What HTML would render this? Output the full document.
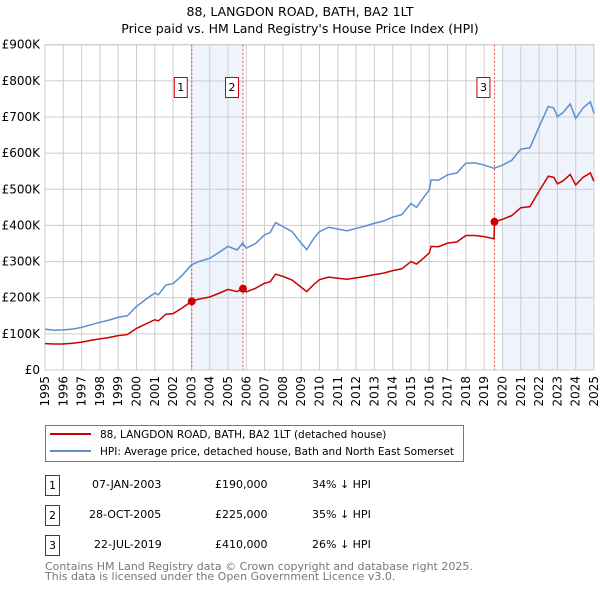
<!DOCTYPE html>
<html><head><meta charset="utf-8"><style>
body{margin:0;background:#fff;font-family:"DejaVu Sans","Liberation Sans",sans-serif;}
svg text{font-family:"DejaVu Sans","Liberation Sans",sans-serif;}
</style></head><body>
<svg id="c" width="600" height="590" xmlns="http://www.w3.org/2000/svg">
<text x="300" y="16" text-anchor="middle" font-size="12.5">88, LANGDON ROAD, BATH, BA2 1LT</text>
<text x="300" y="33" text-anchor="middle" font-size="12.5">Price paid vs. HM Land Registry's House Price Index (HPI)</text>
<g id="plot"></g>
<g>
<rect x="45.5" y="425.5" width="418" height="36" fill="#fff" stroke="#777"/>
<line x1="50" y1="434" x2="91" y2="434" stroke="#cc0000" stroke-width="2"/>
<text x="100" y="438" font-size="10.5">88, LANGDON ROAD, BATH, BA2 1LT (detached house)</text>
<line x1="50" y1="451" x2="91" y2="451" stroke="#5b8fd0" stroke-width="2"/>
<text x="100" y="455" font-size="10.5">HPI: Average price, detached house, Bath and North East Somerset</text>
</g>
<g font-size="11">
<rect x="45.5" y="475.5" width="14" height="20" fill="#fff" stroke="#cc0000"/><text x="52.5" y="489" text-anchor="middle">1</text>
<text x="92" y="488">07-JAN-2003</text><text x="215" y="488">£190,000</text><text x="312" y="488">34% ↓ HPI</text>
<rect x="45.5" y="505.5" width="14" height="20" fill="#fff" stroke="#cc0000"/><text x="52.5" y="519" text-anchor="middle">2</text>
<text x="89" y="518">28-OCT-2005</text><text x="215" y="518">£225,000</text><text x="312" y="518">35% ↓ HPI</text>
<rect x="45.5" y="535.5" width="14" height="20" fill="#fff" stroke="#cc0000"/><text x="52.5" y="549" text-anchor="middle">3</text>
<text x="94" y="548">22-JUL-2019</text><text x="215" y="548">£410,000</text><text x="312" y="548">26% ↓ HPI</text>
</g>
<text x="45" y="570" font-size="11" fill="#777">Contains HM Land Registry data © Crown copyright and database right 2025.</text>
<text x="45" y="580" font-size="11" fill="#777">This data is licensed under the Open Government Licence v3.0.</text>
</svg>
<script>
const hpiYears=[1995,1995.5,1996,1996.5,1997,1997.5,1998,1998.5,1999,1999.5,2000,2000.5,2001,2001.2,2001.6,2002,2002.5,2003,2003.4,2004,2004.5,2005,2005.5,2005.8,2006,2006.5,2007,2007.3,2007.6,2008,2008.5,2009,2009.3,2009.7,2010,2010.5,2011,2011.5,2012,2012.5,2013,2013.5,2014,2014.5,2015,2015.3,2015.7,2016,2016.1,2016.5,2017,2017.5,2018,2018.5,2019,2019.55,2020,2020.5,2021,2021.5,2022,2022.5,2022.8,2023,2023.3,2023.7,2024,2024.4,2024.8,2025];
const hpiValues=[113,110,111,113,118,125,132,138,146,150,176,195,213,208,235,239,262,291,300,309,325,342,332,351,337,350,374,380,408,397,383,351,333,365,383,395,390,385,392,398,406,412,423,430,461,450,478,498,526,525,540,545,572,573,567,558,567,580,611,615,673,729,725,701,712,736,696,725,742,710];
const ppYears=[1995,1995.5,1996,1996.5,1997,1997.5,1998,1998.5,1999,1999.5,2000,2000.5,2001,2001.2,2001.6,2002,2002.5,2003.02,2003.4,2004,2004.5,2005,2005.5,2005.82,2006,2006.5,2007,2007.3,2007.6,2008,2008.5,2009,2009.3,2009.7,2010,2010.5,2011,2011.5,2012,2012.5,2013,2013.5,2014,2014.5,2015,2015.3,2015.7,2016,2016.1,2016.5,2017,2017.5,2018,2018.5,2019,2019.54,2019.56,2020,2020.5,2021,2021.5,2022,2022.5,2022.8,2023,2023.3,2023.7,2024,2024.4,2024.8,2025];
const ppValues=[73,72,72,74,77,82,86,90,95,98,115,127,139,136,154,156,172,190,196,202,212,223,217,225,216,226,240,244,265,259,249,229,217,237,250,257,254,251,255,259,264,268,275,280,300,293,310,324,342,341,351,354,372,372,369,363,410,417,427,449,452,495,536,533,515,523,541,512,533,545,522];
const saleYears=[2003.02,2005.82,2019.56];
const salePrices=[190,225,410];
const yTicks=[0,100,200,300,400,500,600,700,800,900];
const xTicks=[1995,1996,1997,1998,1999,2000,2001,2002,2003,2004,2005,2006,2007,2008,2009,2010,2011,2012,2013,2014,2015,2016,2017,2018,2019,2020,2021,2022,2023,2024,2025];
const NS="http://www.w3.org/2000/svg";
const L=45,R=594,T=44.7,B=370;
const xs=y=>L+(y-1995)/30*(R-L);
const ys=v=>B-v/900*(B-T);
const g=document.getElementById('plot');
function mk(t,a,p){const e=document.createElementNS(NS,t);for(const k in a)e.setAttribute(k,a[k]);(p||g).appendChild(e);return e;}
let s1=mk('rect',{x:xs(saleYears[0]),y:T,width:xs(saleYears[1])-xs(saleYears[0]),height:B-T,fill:'#eef3fc'});


let s2=mk('rect',{x:xs(2020),y:T,width:R-xs(2020),height:B-T,fill:'#eef3fc'});


yTicks.forEach(v=>{
 let l=mk('line',{x1:L,x2:R,y1:ys(v),y2:ys(v),stroke:'#ccc','stroke-width':1});
 
 
 let t=mk('text',{x:L-5,y:ys(v)+4,'text-anchor':'end','font-size':12});
 
 
 t.textContent=v===0?'£0':'£'+v+'K';
});
xTicks.forEach(y=>{
 let l=mk('line',{x1:xs(y),x2:xs(y),y1:T,y2:B,stroke:'#ccc','stroke-width':1});
 
 
 let t=mk('text',{x:0,y:0,'text-anchor':'end','font-size':12,transform:`translate(${xs(y)+4},${B+6}) rotate(-90)`});
 
 
 t.textContent=y;
});
mk('rect',{x:L,y:T,width:R-L,height:B-T,fill:'none',stroke:'#ccc'});
saleYears.forEach((y,i)=>{
 let l=mk('line',{x1:xs(y),x2:xs(y),y1:T,y2:B,stroke:'#e05050','stroke-dasharray':'2,2','stroke-width':1});
 
 
 let r=mk('rect',{x:xs(y)-17.5,y:77.5,width:13,height:20,fill:'#fff',stroke:'#cc0000'});
 
 
 let t=mk('text',{x:xs(y)-11,y:91,'text-anchor':'middle','font-size':11});
 
 
 t.textContent=i+1;
});
let hp=mk('polyline',{points:hpiYears.map((y,i)=>xs(y)+','+ys(hpiValues[i])).join(' '),fill:'none',stroke:'#5b8fd0','stroke-width':1.5});


let pp=mk('polyline',{points:ppYears.map((y,i)=>xs(y)+','+ys(ppValues[i])).join(' '),fill:'none',stroke:'#cc0000','stroke-width':1.5});


saleYears.forEach((y,i)=>{
 let c=mk('circle',{cx:xs(y),cy:ys(salePrices[i]),r:4,fill:'#cc0000'});
 
 
});
</script>
</body></html>
